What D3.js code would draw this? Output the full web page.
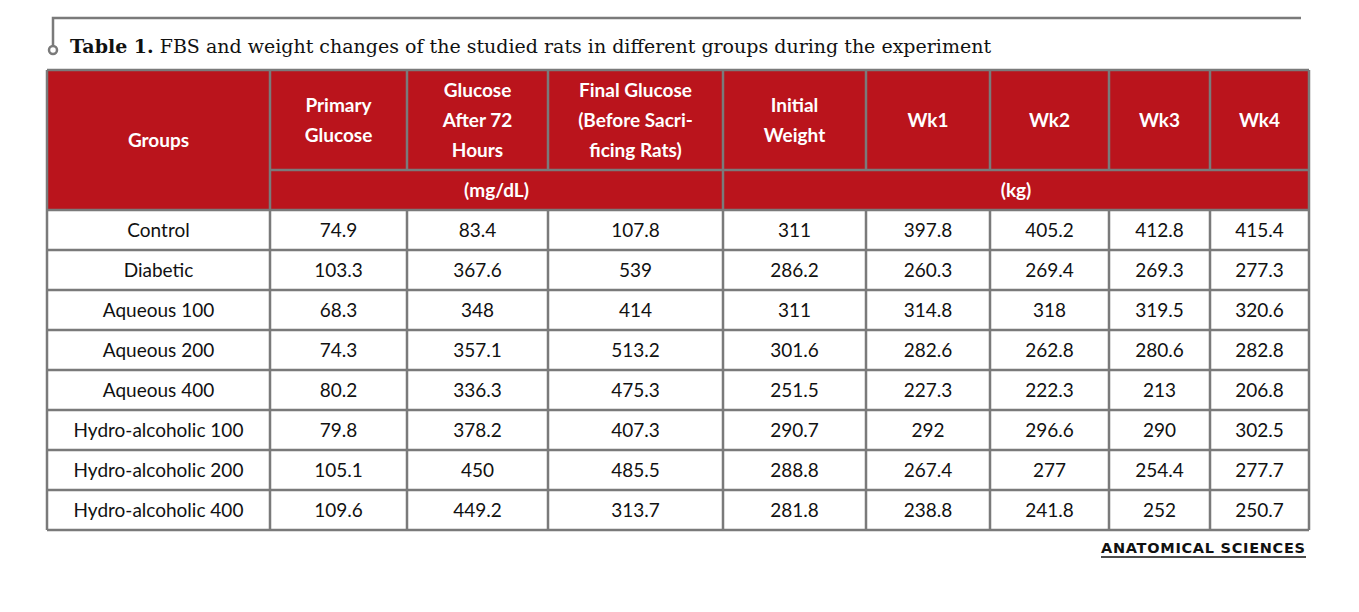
<!DOCTYPE html>
<html>
<head>
<meta charset="utf-8">
<script src="https://cdn.jsdelivr.net/npm/d3@7"></script>
<style>
  body { margin: 0; background: #fff; }
</style>
</head>
<body>
<svg id="chart" width="1359" height="612"></svg>
<script>
// table data
const groups = ["Control", "Diabetic", "Aqueous 100", "Aqueous 200", "Aqueous 400",
  "Hydro-alcoholic 100", "Hydro-alcoholic 200", "Hydro-alcoholic 400"];
const headers = [["Groups"], ["Primary", "Glucose"], ["Glucose", "After 72", "Hours"],
  ["Final Glucose", "(Before Sacri-", "ficing Rats)"], ["Initial", "Weight"],
  ["Wk1"], ["Wk2"], ["Wk3"], ["Wk4"]];
const primaryGlucose = ["74.9", "103.3", "68.3", "74.3", "80.2", "79.8", "105.1", "109.6"];
const glucose72 = ["83.4", "367.6", "348", "357.1", "336.3", "378.2", "450", "449.2"];
const finalGlucose = ["107.8", "539", "414", "513.2", "475.3", "407.3", "485.5", "313.7"];
const initialWeight = ["311", "286.2", "311", "301.6", "251.5", "290.7", "288.8", "281.8"];
const wk1 = ["397.8", "260.3", "314.8", "282.6", "227.3", "292", "267.4", "238.8"];
const wk2 = ["405.2", "269.4", "318", "262.8", "222.3", "296.6", "277", "241.8"];
const wk3 = ["412.8", "269.3", "319.5", "280.6", "213", "290", "254.4", "252"];
const wk4 = ["415.4", "277.3", "320.6", "282.8", "206.8", "302.5", "277.7", "250.7"];

const colEdges = [47, 270, 407, 548, 723, 866, 990, 1109, 1210, 1309];
const red = "#ba141c", grey = "#7a7a7a";
const font = "Lato, 'Open Sans', sans-serif";

const svg = d3.select("#chart");

// title bracket
svg.append("path").attr("d", "M53,46 V18 H1301")
  .attr("fill", "none").attr("stroke", grey).attr("stroke-width", 2.5);
svg.append("circle").attr("cx", 53).attr("cy", 50).attr("r", 4)
  .attr("fill", "#fff").attr("stroke", grey).attr("stroke-width", 2.5);
const title = svg.append("text").attr("x", 70).attr("y", 53)
  .attr("font-family", "'DejaVu Serif', 'Liberation Serif', serif").attr("font-size", 19).attr("fill", "#111");
title.append("tspan").attr("font-weight", "bold").text("Table 1.");
title.append("tspan").text(" FBS and weight changes of the studied rats in different groups during the experiment");

const rowY = d3.scaleLinear().domain([0, groups.length]).range([210, 530]);
const cx = i => (colEdges[i] + colEdges[i + 1]) / 2;

// header background
svg.append("rect").attr("x", 47).attr("y", 70).attr("width", 1262).attr("height", 140).attr("fill", red);

headers.forEach((lines, i) => {
  const midY = i === 0 ? 140 : 120;
  const lh = 15.5 * 1.0 + 15;
  const t = svg.append("text").attr("text-anchor", "middle")
    .attr("font-family", font).attr("font-weight", "bold").attr("font-size", 19).attr("fill", "#fff");
  lines.forEach((l, k) => {
    t.append("tspan").attr("x", cx(i))
      .attr("y", midY + (k - (lines.length - 1) / 2) * lh * 0.97 + 7).text(l);
  });
});
svg.append("text").attr("x", (colEdges[1] + colEdges[4]) / 2).attr("y", 197)
  .attr("text-anchor", "middle").attr("font-family", font).attr("font-weight", "bold")
  .attr("font-size", 19).attr("fill", "#fff").text("(mg/dL)");
svg.append("text").attr("x", (colEdges[4] + colEdges[9]) / 2).attr("y", 197)
  .attr("text-anchor", "middle").attr("font-family", font).attr("font-weight", "bold")
  .attr("font-size", 19).attr("fill", "#fff").text("(kg)");

// body rows
const columns = [groups, primaryGlucose, glucose72, finalGlucose, initialWeight, wk1, wk2, wk3, wk4];
columns.forEach((col, i) => {
  svg.selectAll(null).data(col).join("text")
    .attr("x", cx(i)).attr("y", (d, r) => (rowY(r) + rowY(r + 1)) / 2 + 7)
    .attr("text-anchor", "middle").attr("font-family", font).attr("font-size", 19)
    .attr("fill", "#111").text(d => d);
});

// grid lines
const g = svg.append("g").attr("stroke", grey).attr("stroke-width", 2.5);
d3.range(groups.length + 1).forEach(r =>
  g.append("line").attr("x1", 47).attr("x2", 1309).attr("y1", rowY(r)).attr("y2", rowY(r)));
g.append("line").attr("x1", 270).attr("x2", 1309).attr("y1", 170).attr("y2", 170);
g.append("line").attr("x1", 47).attr("x2", 1309).attr("y1", 70).attr("y2", 70);
colEdges.forEach((x, i) => {
  const top = 70;
  if (i === 0 || i === 1 || i === 4 || i === 9) {
    g.append("line").attr("x1", x).attr("x2", x).attr("y1", top).attr("y2", 530);
  } else {
    g.append("line").attr("x1", x).attr("x2", x).attr("y1", top).attr("y2", 170);
    g.append("line").attr("x1", x).attr("x2", x).attr("y1", 210).attr("y2", 530);
  }
});

// logo
svg.append("text").attr("x", 1305).attr("y", 553).attr("text-anchor", "end")
  .attr("font-family", "'DejaVu Sans', sans-serif").attr("font-weight", "bold")
  .attr("font-size", 14.5).attr("fill", "#111").attr("textLength", 204).text("ANATOMICAL SCIENCES");
svg.append("line").attr("x1", 1101).attr("x2", 1306).attr("y1", 557).attr("y2", 557)
  .attr("stroke", "#111").attr("stroke-width", 1.5);
</script>
</body>
</html>
